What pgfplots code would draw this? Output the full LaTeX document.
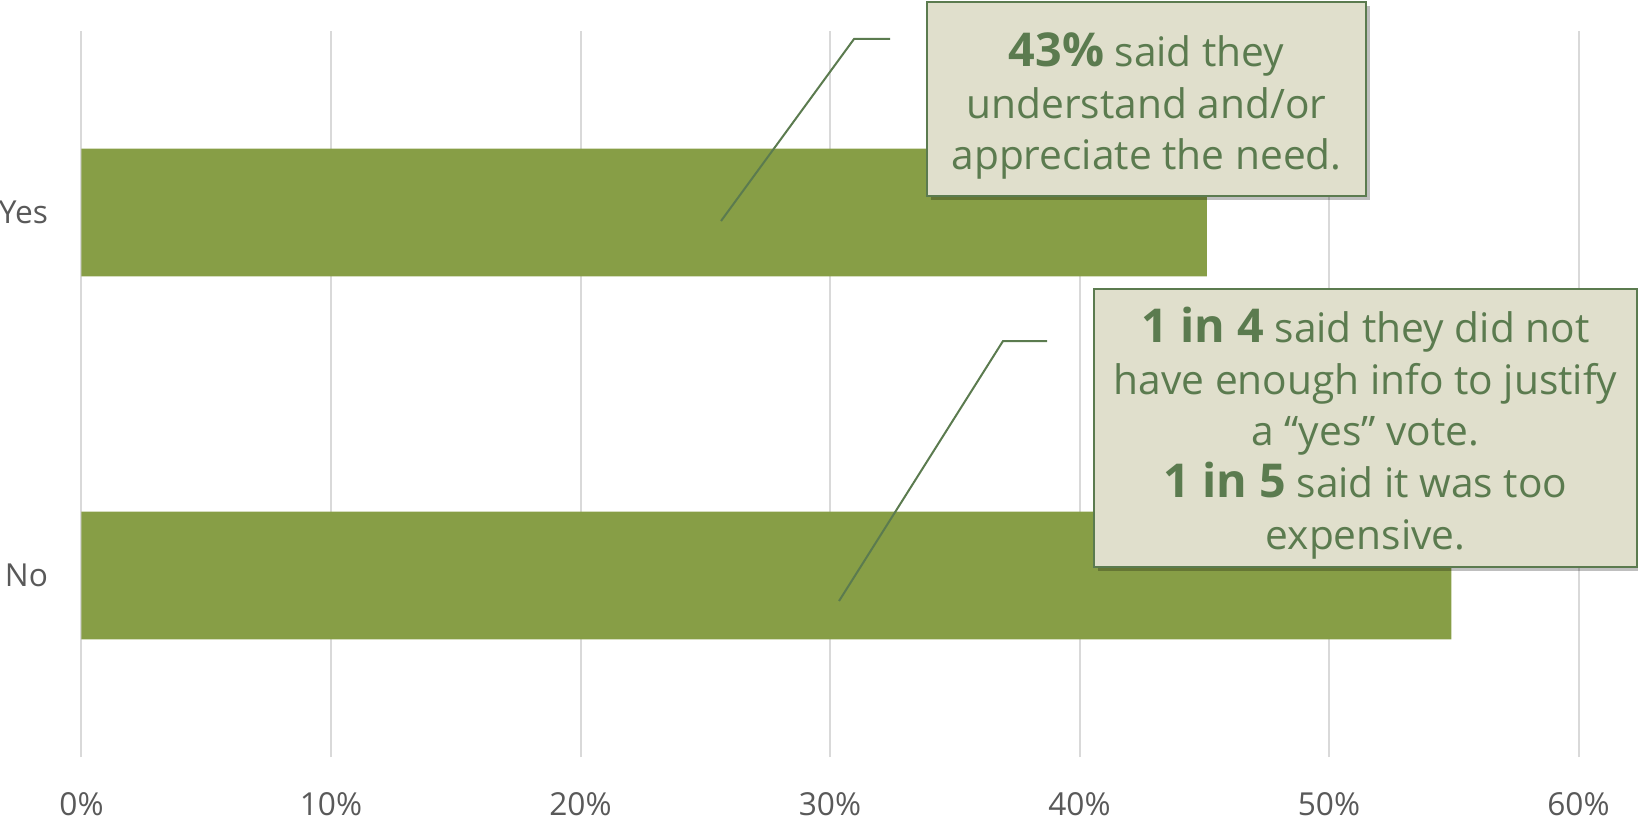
\documentclass[border=0pt]{standalone}
\usepackage{fontspec}
\setmainfont{Open Sans}
\usepackage{pgfplots}
\pgfplotsset{compat=1.18}
\usetikzlibrary{shadows}

\definecolor{barGreen}{RGB}{135,158,70}
\definecolor{boxFill}{RGB}{224,223,204}
\definecolor{boxGreen}{RGB}{91,123,79}
\definecolor{gridGray}{RGB}{217,217,217}
\definecolor{tickGray}{RGB}{89,89,89}

\newcommand{\keyfig}[1]{{\fontsize{14}{15.5}\selectfont\bfseries #1}}

\begin{document}
\begin{tikzpicture}
% page = 1638 x 822 px at 0.3pt per px
\useasboundingbox (-24.45pt,-19.5pt) rectangle (466.95pt,227.1pt);
\begin{axis}[
    at={(0,0)}, anchor=south west,
    scale only axis,
    width=449.1pt, height=217.8pt,
    xbar,
    xmin=0, xmax=60,
    ymin=-0.5, ymax=1.5,
    bar width=0.352,
    xtick={0,10,...,60},
    xticklabel={\pgfmathprintnumber[assume math mode=true]{\tick}\%},
    ytick={0,1},
    yticklabels={No,Yes},
    xmajorgrids=true,
    grid style={color=gridGray, line width=0.6pt},
    axis line style={draw=none},
    tick style={draw=none},
    tick label style={font=\fontsize{9.5}{11}\selectfont, text=tickGray, inner sep=0pt},
    xticklabel style={anchor=base, yshift=-17.5pt},
    yticklabel style={anchor=east, xshift=-5.6pt},
]
\addplot[fill=barGreen, draw=none] coordinates {
    (54.9,0)
    (45.1,1)
};
\end{axis}

% callouts, placed in pixel units from the top left corner
\begin{scope}[x=0.3pt, y=-0.3pt, shift={(-24.45pt,227.1pt)}]
\draw[boxGreen, line width=0.6pt] (890,39) -- (854,39) -- (721,221);
\draw[boxGreen, line width=0.6pt] (1047,341) -- (1003,341) -- (839,601);
\draw[boxGreen, line width=0.8pt, fill=boxFill,
      drop shadow={shadow xshift=1.2pt, shadow yshift=-1.2pt, opacity=0.25, fill=black}]
    (927,2) rectangle (1366,196);
\draw[boxGreen, line width=0.8pt, fill=boxFill,
      drop shadow={shadow xshift=1.2pt, shadow yshift=-1.2pt, opacity=0.25, fill=black}]
    (1094,289) rectangle (1637,567);
\node[align=center, text=boxGreen, font=\fontsize{12.2}{15.5}\selectfont]
    at (1146.5,106) {\keyfig{43\%} said they\\understand and/or\\appreciate the need.};
\node[align=center, text=boxGreen, font=\fontsize{12.2}{15.5}\selectfont]
    at (1365.5,433) {\keyfig{1 in 4} said they did not\\have enough info to justify\\a “yes” vote.\\\keyfig{1 in 5} said it was too\\expensive.};
\end{scope}
\end{tikzpicture}
\end{document}
